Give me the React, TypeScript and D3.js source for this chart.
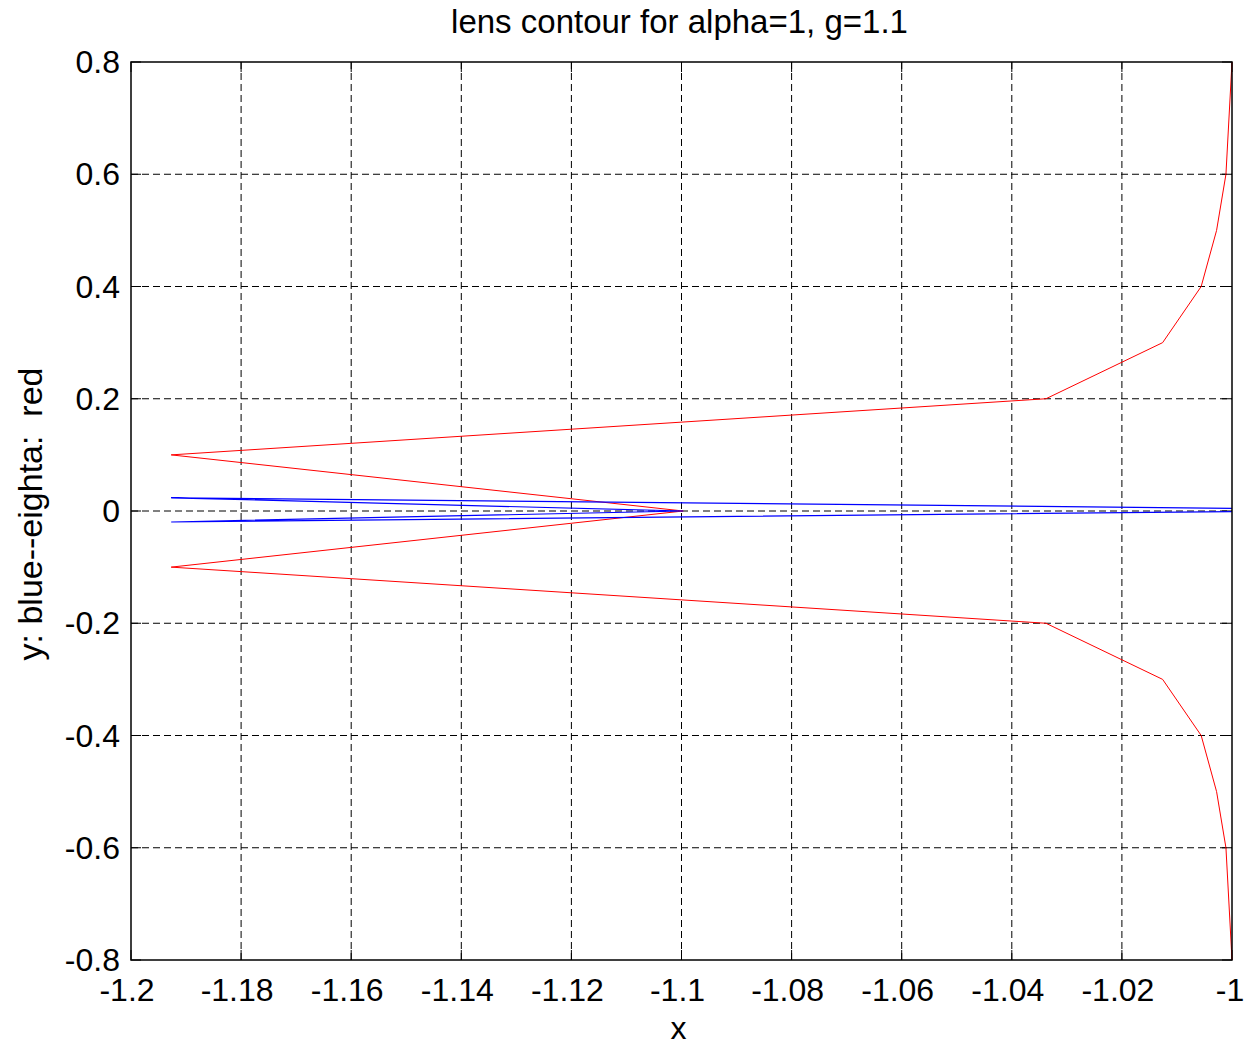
import React, { useEffect, useRef } from "react";
import * as d3 from "d3";

const W = 1245;
const H = 1048;

const titleText = "lens contour for alpha=1, g=1.1";
const xLabel = "x";
const yLabel = "y: blue--eighta:  red";

const xTicks = [-1.2, -1.18, -1.16, -1.14, -1.12, -1.1, -1.08, -1.06, -1.04, -1.02, -1];
const yTicks = [-0.8, -0.6, -0.4, -0.2, 0, 0.2, 0.4, 0.6, 0.8];

// red lens contour (traversed from top right, through the tips, to bottom right)
const redX = [-1.0, -1.0011, -1.0028, -1.0056, -1.0126, -1.0338, -1.1927, -1.0997, -1.1927, -1.0338, -1.0126, -1.0056, -1.0028, -1.0011, -1.0];
const redY = [0.8, 0.6, 0.5, 0.4, 0.3, 0.2, 0.1, 0, -0.1, -0.2, -0.3, -0.4, -0.5, -0.6, -0.8];

// blue "eighta" contour
const blueX = [-1.0, -1.1927, -1.0997, -1.1927, -1.0];
const blueY = [0.0048, 0.0235, 0, -0.0196, -0.001];

const margin = { left: 131, right: W - 1232, top: 62, bottom: H - 960 };
const FONT = "'Liberation Sans', Arial, Helvetica, sans-serif";

const fmt = (v: number) => String(v).replace("\u2212", "-");

export default function App() {
  const ref = useRef<SVGSVGElement | null>(null);

  useEffect(() => {
    document.body.style.margin = "0";
    const svg = d3.select(ref.current);
    svg.selectAll("*").remove();

    const x = d3.scaleLinear().domain([-1.2, -1]).range([margin.left, W - margin.right]);
    const y = d3.scaleLinear().domain([-0.8, 0.8]).range([H - margin.bottom, margin.top]);
    const x0 = x.range()[0], x1 = x.range()[1];
    const y0 = y.range()[1], y1 = y.range()[0];

    svg.append("rect").attr("width", W).attr("height", H).attr("fill", "#fff");

    const g = svg.append("g");

    // grid
    g.selectAll(".vgrid")
      .data(xTicks.slice(1, -1))
      .enter()
      .append("line")
      .attr("x1", (d) => x(d))
      .attr("x2", (d) => x(d))
      .attr("y1", y0)
      .attr("y2", y1)
      .attr("stroke", "#000")
      .attr("stroke-width", 1)
      .attr("stroke-dasharray", "7,4");
    g.selectAll(".hgrid")
      .data(yTicks.slice(1, -1))
      .enter()
      .append("line")
      .attr("x1", x0)
      .attr("x2", x1)
      .attr("y1", (d) => y(d))
      .attr("y2", (d) => y(d))
      .attr("stroke", "#000")
      .attr("stroke-width", 1)
      .attr("stroke-dasharray", "7,4");

    // ticks (inward, all four sides)
    const tl = 10;
    xTicks.forEach((t) => {
      g.append("line").attr("x1", x(t)).attr("x2", x(t)).attr("y1", y1).attr("y2", y1 - tl).attr("stroke", "#000");
      g.append("line").attr("x1", x(t)).attr("x2", x(t)).attr("y1", y0).attr("y2", y0 + tl).attr("stroke", "#000");
    });
    yTicks.forEach((t) => {
      g.append("line").attr("x1", x0).attr("x2", x0 + tl).attr("y1", y(t)).attr("y2", y(t)).attr("stroke", "#000");
      g.append("line").attr("x1", x1).attr("x2", x1 - tl).attr("y1", y(t)).attr("y2", y(t)).attr("stroke", "#000");
    });

    const line = d3
      .line<[number, number]>()
      .x((d) => x(d[0]))
      .y((d) => y(d[1]));

    const redPts: [number, number][] = redX.map((v, i) => [v, redY[i]]);
    const bluePts: [number, number][] = blueX.map((v, i) => [v, blueY[i]]);

    g.append("path").attr("d", line(redPts) as string).attr("fill", "none").attr("stroke", "#ff0000").attr("stroke-width", 1);
    g.append("path").attr("d", line(bluePts) as string).attr("fill", "none").attr("stroke", "#0000ff").attr("stroke-width", 1.2);

    // box
    g.append("rect")
      .attr("x", x0)
      .attr("y", y0)
      .attr("width", x1 - x0)
      .attr("height", y1 - y0)
      .attr("fill", "none")
      .attr("stroke", "#000")
      .attr("stroke-width", 1.5);

    const fs = 32;
    // tick labels
    xTicks.forEach((t, i) => {
      g.append("text")
        .attr("x", i === xTicks.length - 1 ? x(t) - 2 : x(t) - 4)
        .attr("y", y1 + 41)
        .attr("text-anchor", "middle")
        .attr("font-family", FONT)
        .attr("font-size", fs)
        .text(fmt(t));
    });
    yTicks.forEach((t) => {
      g.append("text")
        .attr("x", x0 - 11)
        .attr("y", y(t) + 11)
        .attr("text-anchor", "end")
        .attr("font-family", FONT)
        .attr("font-size", fs)
        .text(fmt(t));
    });

    // title & labels
    svg.append("text")
      .attr("x", (x0 + x1) / 2 - 2)
      .attr("y", 33)
      .attr("text-anchor", "middle")
      .attr("font-family", FONT)
      .attr("font-size", 33)
      .text(titleText);
    svg.append("text")
      .attr("x", (x0 + x1) / 2 - 3)
      .attr("y", 1039)
      .attr("text-anchor", "middle")
      .attr("font-family", FONT)
      .attr("font-size", fs)
      .text(xLabel);
    svg.append("text")
      .attr("transform", `translate(42, ${(y0 + y1) / 2 + 3}) rotate(-90)`)
      .attr("text-anchor", "middle")
      .attr("font-family", FONT)
      .attr("font-size", 34)
      .attr("xml:space", "preserve")
      .style("white-space", "pre")
      .text(yLabel);
  }, []);

  return <svg ref={ref} width={W} height={H} style={{ display: "block" }} />;
}
